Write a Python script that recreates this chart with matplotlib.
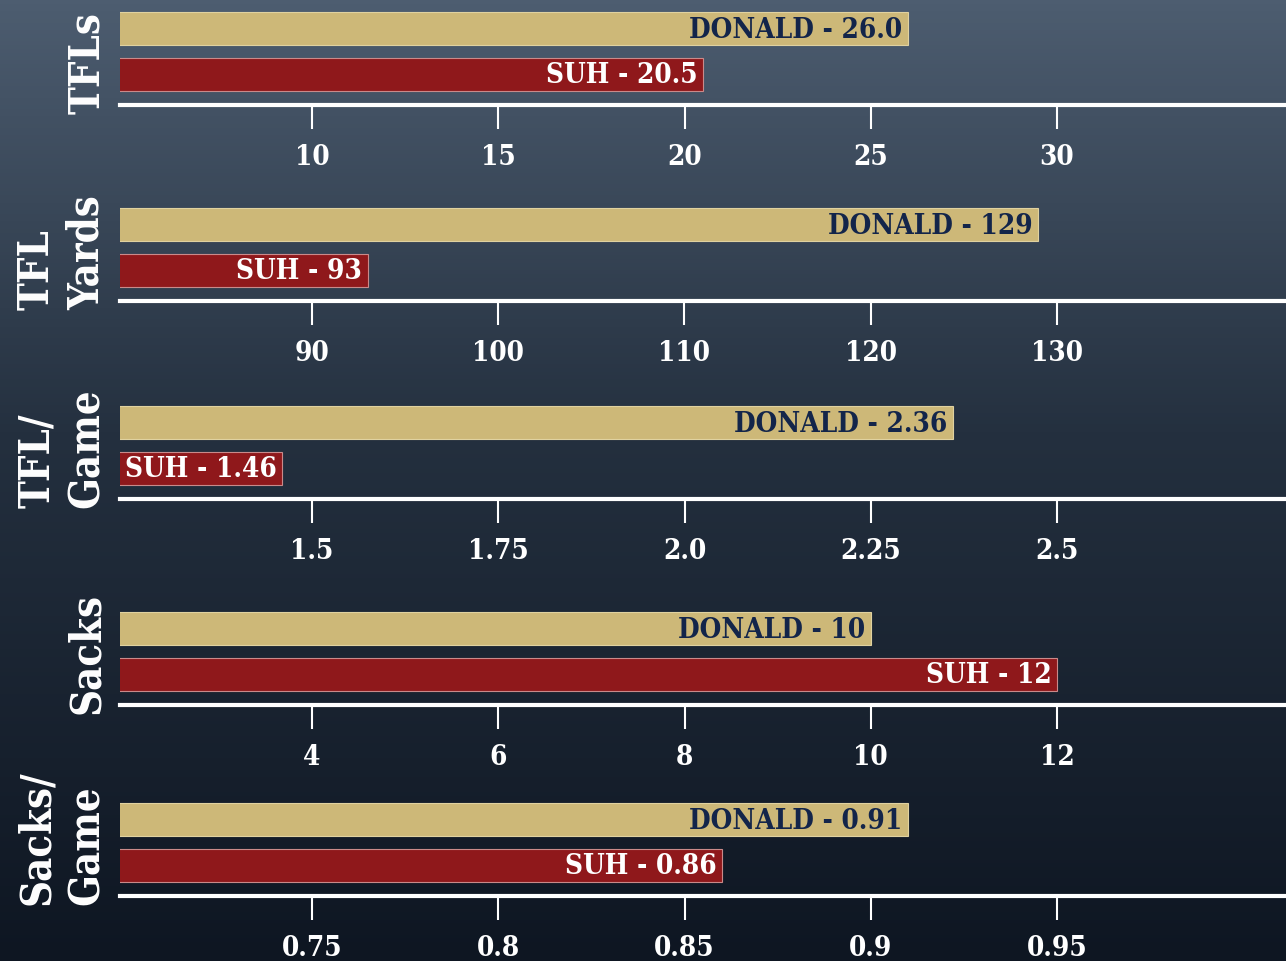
import numpy as np
import matplotlib.pyplot as plt
from matplotlib.colors import LinearSegmentedColormap

# data
stats = ["TFLs", "TFL\nYards", "TFL/\nGame", "Sacks", "Sacks/\nGame"]
donald = [26.0, 129, 2.36, 10, 0.91]
suh = [20.5, 93, 1.46, 12, 0.86]
donald_txt = ["26.0", "129", "2.36", "10", "0.91"]
suh_txt = ["20.5", "93", "1.46", "12", "0.86"]
ticks = [[10, 15, 20, 25, 30],
         [90, 100, 110, 120, 130],
         [1.5, 1.75, 2.0, 2.25, 2.5],
         [4, 6, 8, 10, 12],
         [0.75, 0.8, 0.85, 0.9, 0.95]]
tick_labels = [["10", "15", "20", "25", "30"],
               ["90", "100", "110", "120", "130"],
               ["1.5", "1.75", "2.0", "2.25", "2.5"],
               ["4", "6", "8", "10", "12"],
               ["0.75", "0.8", "0.85", "0.9", "0.95"]]

GOLD = "#cdb878"
RED = "#8f181b"
NAVY = "#13254a"
FONT = dict(family="DejaVu Serif", fontweight="bold", fontstretch="condensed")

W, H = 1286, 961
fig = plt.figure(figsize=(W / 100, H / 100), dpi=100)

# background gradient
bg = fig.add_axes([0, 0, 1, 1], zorder=-5)
cmap = LinearSegmentedColormap.from_list(
    "bg", [(0, "#4d5d70"), (0.45, "#24303f"), (1, "#0e1622")])
bg.imshow(np.linspace(0, 1, 256)[:, None], aspect="auto", cmap=cmap,
          extent=[0, 1, 0, 1])
bg.set_axis_off()

spine_px = [105, 301, 499, 705, 896]
left_px, right_px = 120, 1286

for i in range(5):
    ax = fig.add_axes([left_px / W, 1 - spine_px[i] / H,
                       (right_px - left_px) / W, 100 / H])
    ax.patch.set_alpha(0)
    t = ticks[i]
    span = t[-1] - t[0]
    ax.set_xlim(t[0] - span * 192 / 745, t[-1] + span * 229 / 745)
    ax.set_ylim(-0.68, 1.52)

    ax.barh(1, donald[i], height=0.73, color=GOLD, edgecolor="#e0d2a0", lw=0.8)
    ax.barh(0, suh[i], height=0.73, color=RED, edgecolor="#c98a8a", lw=0.8)
    ax.annotate(f"DONALD - {donald_txt[i]}", (donald[i], 1), xytext=(-4, -1),
                textcoords="offset points", ha="right", va="center",
                color=NAVY, fontsize=20, **FONT)
    ax.annotate(f"SUH - {suh_txt[i]}", (suh[i], 0), xytext=(-4, -1),
                textcoords="offset points", ha="right", va="center",
                color="white", fontsize=20, **FONT)

    for s in ["top", "right", "left"]:
        ax.spines[s].set_visible(False)
    ax.spines["bottom"].set_color("white")
    ax.spines["bottom"].set_linewidth(3)
    ax.set_yticks([])
    ax.set_xticks(t)
    ax.set_xticklabels(tick_labels[i], color="white", fontsize=20, **FONT)
    ax.tick_params(axis="x", colors="white", length=17, width=1.5, pad=11,
                   labelcolor="white")

    fig.text(108 / W, 1 - (spine_px[i] + 9) / H, stats[i], rotation=90,
             ha="right", va="bottom", multialignment="left", color="white",
             fontsize=30, linespacing=1.25, **FONT)

fig.savefig("out.png", dpi=100)
